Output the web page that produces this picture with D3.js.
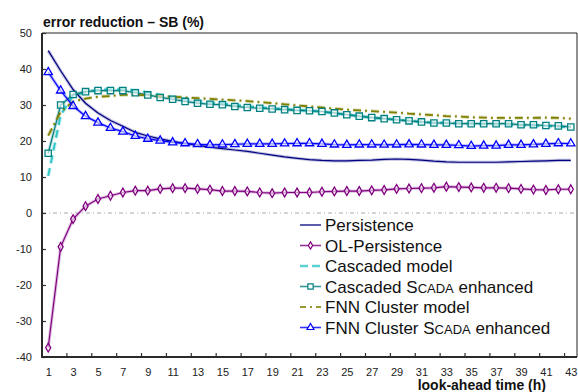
<!DOCTYPE html>
<html>
<head>
<meta charset="utf-8">
<script src="https://cdn.jsdelivr.net/npm/d3@7"></script>
<style>
  body { margin: 0; background: #fff; }
  svg { display: block; font-family: Arial, "Liberation Sans", sans-serif; }
  .y-axis text, .x-axis text { fill: #222; font-size: 11px; }
  .title, .axis-label { font-weight: bold; font-size: 14px; fill: #111; }
  .legend text { font-size: 17px; fill: #111; }
</style>
</head>
<body>
<svg id="chart" width="578" height="392"></svg>
<script>
// look-ahead hours
const hours = d3.range(1, 44);
const xTickLabels = d3.range(1, 44, 2);
const yTicks = d3.range(-40, 51, 10);

const persistence = [45.1, 39.5, 34.3, 30.5, 27.8, 25.7, 24.1, 22.4, 21.4, 20.6,
  19.9, 19.3, 18.8, 18.3, 17.9, 17.5, 17.1, 16.6, 16.1, 15.6,
  15.2, 14.8, 14.6, 14.5, 14.5, 14.6, 14.7, 14.9, 15.0, 14.9,
  14.7, 14.4, 14.2, 14.1, 14.1, 14.1, 14.1, 14.2, 14.3, 14.4,
  14.5, 14.6, 14.6];
const olPersistence = [-37.4, -9.4, -1.7, 1.9, 3.9, 4.8, 5.7, 6.2, 6.2, 6.7,
  6.9, 6.9, 6.7, 6.5, 6.1, 6.1, 6.0, 5.7, 5.5, 5.7,
  5.7, 5.7, 5.9, 6.0, 6.1, 6.1, 6.3, 6.4, 6.7, 6.8,
  6.9, 7.0, 7.3, 7.2, 7.1, 7.0, 7.0, 6.9, 6.7, 6.5,
  6.4, 6.6, 6.6];
const cascadedModel = [10.3, 27.2, 32.6, 33.6, 34.2, 34.4, 34.4, 34.1, 33.5, 32.8,
  32.2, 31.6, 31.1, 30.7, 30.4, 30.0, 29.7, 29.4, 29.1, 28.9,
  28.6, 28.4, 28.1, 27.7, 27.3, 26.9, 26.5, 26.2, 25.9, 25.6,
  25.3, 25.1, 25.0, 24.9, 24.8, 24.7, 24.6, 24.5, 24.4, 24.3,
  24.2, 24.0, 23.8];
const cascadedScada = [16.6, 30.0, 32.9, 33.7, 34.0, 34.0, 34.0, 33.4, 32.8, 32.1,
  31.6, 31.0, 30.5, 30.2, 30.1, 29.6, 29.3, 29.1, 28.9, 28.7,
  28.5, 28.4, 28.2, 27.8, 27.3, 26.9, 26.5, 26.2, 25.9, 25.6,
  25.3, 25.0, 25.0, 24.8, 24.8, 24.8, 24.8, 24.8, 24.5, 24.5,
  24.3, 24.2, 23.9];
const fnnModel = [21.5, 28.1, 30.9, 31.8, 32.3, 32.5, 32.8, 32.8, 32.7, 32.5,
  32.3, 32.1, 31.9, 31.7, 31.5, 31.3, 31.1, 30.8, 30.5, 30.2,
  29.9, 29.6, 29.3, 29.0, 28.7, 28.5, 28.3, 28.1, 27.9, 27.6,
  27.4, 27.2, 26.9, 26.8, 26.6, 26.5, 26.4, 26.4, 26.4, 26.4,
  26.5, 26.4, 26.2];
const fnnScada = [39.1, 34.0, 29.7, 26.9, 25.1, 23.6, 22.6, 21.4, 20.6, 20.1,
  19.6, 19.35, 19.1, 18.9, 19.0, 19.1, 19.2, 19.2, 19.2, 19.3,
  19.35, 19.35, 19.2, 19.0, 18.9, 19.0, 19.0, 18.95, 19.0, 19.05,
  19.0, 18.9, 18.9, 18.8, 18.6, 18.7, 18.7, 18.9, 18.9, 19.05,
  19.2, 19.35, 19.3];

const series = [
  { name: "Persistence", values: persistence, color: "#000080", width: 1.2, dash: null, legendDash: null, symbol: null },
  { name: "OL-Persistence", values: olPersistence, color: "#800080", width: 1.2, dash: null, legendDash: null, symbol: d3.symbolDiamond, size: 22 },
  { name: "Cascaded model", values: cascadedModel, color: "#33c6c6", width: 2, dash: "8,5", legendDash: "8,4", symbol: null },
  { name: "Cascaded SCADA enhanced", scada: "Cascaded ", values: cascadedScada, color: "#008080", width: 1.2, dash: null, legendDash: null, symbol: d3.symbolSquare, size: 40 },
  { name: "FNN Cluster model", values: fnnModel, color: "#808000", width: 1.8, dash: "8,4,2,4", legendDash: "6,4,2,4", symbol: null },
  { name: "FNN Cluster SCADA enhanced", scada: "FNN Cluster ", values: fnnScada, color: "#0000ff", width: 1.2, dash: null, legendDash: null, symbol: d3.symbolTriangle, size: 30 },
];

const svg = d3.select("#chart");
const plotLeft = 42, plotRight = 577, plotTop = 33, plotBottom = 357;

const xScale = d3.scaleBand().domain(hours).range([plotLeft, plotRight]).padding(0);
const xMid = (h) => xScale(h) + xScale.bandwidth() / 2;
const yScale = d3.scaleLinear().domain([-40, 50]).range([plotBottom, plotTop]);

// frame top & right
svg.append("path")
  .attr("d", `M${plotLeft},${plotTop}H${plotRight}V${plotBottom}`)
  .attr("fill", "none")
  .attr("stroke", "#222")
  .attr("stroke-width", 1);

// zero line
svg.append("line")
  .attr("x1", plotLeft).attr("x2", plotRight)
  .attr("y1", yScale(0)).attr("y2", yScale(0))
  .attr("stroke", "#aaa")
  .attr("stroke-dasharray", "4,3,1,3");

// y axis (plain hyphen for negatives, like the original)
const yAxis = d3.axisLeft(yScale).tickValues(yTicks).tickSize(-4).tickPadding(10)
  .tickFormat((d) => String(d));
const yAxisG = svg.append("g").attr("class", "y-axis")
  .attr("transform", `translate(${plotLeft},0)`)
  .call(yAxis);
yAxisG.select(".domain").remove();
yAxisG.selectAll(".tick line").attr("stroke", "#333").attr("stroke-width", 1.2);

// x axis: labels at odd hours, tick marks between categories
const xAxis = d3.axisBottom(d3.scalePoint().domain(hours).range([xMid(1), xMid(43)]))
  .tickValues(xTickLabels).tickSize(0).tickPadding(11);
const xAxisG = svg.append("g").attr("class", "x-axis")
  .attr("transform", `translate(0,${plotBottom})`)
  .call(xAxis);
xAxisG.select(".domain").remove();

svg.append("g").selectAll("line")
  .data(d3.range(3, 44, 2))
  .join("line")
  .attr("x1", (d) => xScale(d)).attr("x2", (d) => xScale(d))
  .attr("y1", plotBottom - 4).attr("y2", plotBottom)
  .attr("stroke", "#333").attr("stroke-width", 1.2);

// axis lines (thick dark)
svg.append("path")
  .attr("d", `M${plotLeft},${plotTop}V${plotBottom}H${plotRight}`)
  .attr("fill", "none")
  .attr("stroke", "#2a2a2a")
  .attr("stroke-width", 2);

const lineGenerator = d3.line()
  .x((d, i) => xMid(hours[i]))
  .y((d) => yScale(d));

// lines, with a soft halo underneath
const linesG = svg.append("g");
series.forEach((s) => {
  linesG.append("path")
    .attr("d", lineGenerator(s.values))
    .attr("fill", "none")
    .attr("stroke", s.color)
    .attr("stroke-opacity", 0.25)
    .attr("stroke-width", s.width + 2)
    .attr("stroke-dasharray", s.dash);
  linesG.append("path")
    .attr("d", lineGenerator(s.values))
    .attr("fill", "none")
    .attr("stroke", s.color)
    .attr("stroke-width", s.width)
    .attr("stroke-dasharray", s.dash);
});

// markers
series.filter((s) => s.symbol).forEach((s) => {
  linesG.append("g").selectAll("path")
    .data(s.values)
    .join("path")
    .attr("transform", (d, i) => `translate(${xMid(hours[i])},${yScale(d)})`)
    .attr("d", d3.symbol(s.symbol, s.size))
    .attr("fill", "#fff")
    .attr("fill-opacity", 0.6)
    .attr("stroke", s.color)
    .attr("stroke-width", 1.3);
});

// title & x label
svg.append("text").attr("class", "title")
  .attr("x", 43).attr("y", 27)
  .text("error reduction \u2013 SB (%)");

svg.append("text").attr("class", "axis-label")
  .attr("x", 546).attr("y", 390)
  .attr("text-anchor", "end")
  .text("look-ahead time (h)");

// legend
const legend = svg.append("g").attr("class", "legend")
  .attr("transform", "translate(300,225)");
const item = legend.selectAll("g")
  .data(series)
  .join("g")
  .attr("transform", (d, i) => `translate(0,${i * 20.5})`);

item.append("line")
  .attr("x1", 0).attr("x2", 21)
  .attr("stroke", (d) => d.color)
  .attr("stroke-opacity", 0.8)
  .attr("stroke-width", (d) => d.width + 0.4)
  .attr("stroke-dasharray", (d) => d.legendDash);

item.filter((d) => d.symbol).append("path")
  .attr("transform", "translate(10.5,0)")
  .attr("d", (d) => d3.symbol(d.symbol, d.size * 0.7)())
  .attr("fill", "#fff")
  .attr("stroke", (d) => d.color)
  .attr("stroke-width", 1.2);

const label = item.append("text")
  .attr("x", 25).attr("y", 6);
label.filter((d) => !d.scada).text((d) => d.name);
label.filter((d) => d.scada).each(function (d) {
  const t = d3.select(this);
  t.append("tspan").text(d.scada + "S");
  t.append("tspan").attr("font-size", "13px").text("CADA");
  t.append("tspan").text(" enhanced");
});
</script>
</body>
</html>
